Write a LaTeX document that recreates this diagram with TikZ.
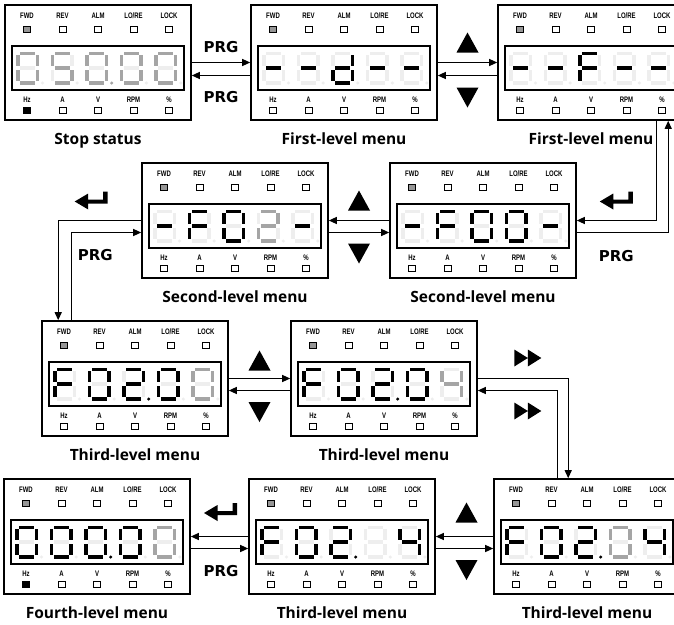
\documentclass[tikz,border=0pt]{standalone}
\usepackage{fontspec}
\setmainfont{Open Sans}
\newfontfamily\prgfont{DejaVu Sans}
\newfontfamily\ledfont[FakeStretch=0.75]{Liberation Sans}
\usetikzlibrary{positioning,arrows.meta,calc}
\definecolor{segc0}{RGB}{238,238,238}
\definecolor{segc1}{RGB}{0,0,0}
\definecolor{segc2}{RGB}{165,165,165}
\definecolor{fwdGray}{RGB}{150,150,150}
\tikzset{
  panel/.style={draw, line width=1.6pt, fill=white, minimum width=186pt,
                minimum height=115pt, inner sep=0pt},
  lcdwin/.style={draw, line width=1.1pt, minimum width=172pt,
                 minimum height=44pt, inner sep=0pt},
  ledlbl/.style={font=\ledfont\bfseries\fontsize{8}{9}\selectfont, inner sep=0pt},
  ledsq/.style={draw, line width=0.8pt, fill=white},
  menucap/.style={font=\bfseries\fontsize{15.5}{17}\selectfont, inner sep=0pt},
  prg/.style={font=\prgfont\bfseries\fontsize{15}{16}\selectfont, inner sep=0pt},
  flow/.style={-{Triangle[length=8pt,width=7pt]}, line width=1.2pt},
}
% segments a b c d e f g dp : 0 off, 1 on, 2 dim
\newcommand{\lcdseg}[8]{%
  \fill[fill=segc#1] (-7.5,-16.5) rectangle (7.5,-13);
  \fill[fill=segc#2] (8,-13) rectangle (11.5,-2);
  \fill[fill=segc#3] (8,2) rectangle (11.5,13);
  \fill[fill=segc#4] (-7.5,13) rectangle (7.5,16.5);
  \fill[fill=segc#5] (-11.5,2) rectangle (-8,13);
  \fill[fill=segc#6] (-11.5,-13) rectangle (-8,-2);
  \fill[fill=segc#7] (-7.5,-1.75) rectangle (7.5,1.75);
  \fill[fill=segc#8] (15,15) circle (1.7pt);}
\newcommand{\lcddigit}[2]{%
  \begin{scope}[shift={(#1,63)}]\expandafter\lcdseg#2\end{scope}}
% #1 name, #2 x, #3 y, #4 digit codes, #5 Hz led fill
\newcommand{\lcdpanel}[5]{%
  \begin{scope}[shift={(#2,#3)}]
    \node[panel] (#1) at (93,57.5) {};
    \node[lcdwin] (#1lcd) at (93,63) {};
    \foreach \lb [count=\n] in {FWD,REV,ALM,LO/RE,LOCK}{
      \node[ledlbl] at (22+35.5*\n-35.5,11) {\lb};
      \draw[ledsq] (18.5+35.5*\n-35.5,21) rectangle ++(7,6);}
    \draw[ledsq, fill=fwdGray] (18.5,21) rectangle ++(7,6);
    \foreach \lb [count=\n] in {Hz,A,V,RPM,\%}{
      \node[ledlbl] at (22+35.5*\n-35.5,95) {\lb};
      \draw[ledsq] (18.5+35.5*\n-35.5,102.5) rectangle ++(7,6);}
    \draw[ledsq, fill=#5] (18.5,102.5) rectangle ++(7,6);
    \foreach \code [count=\n] in {#4}
      \lcddigit{22.5+34.6*\n-34.6}{\code};
  \end{scope}}
\newcommand{\upkey}[1]{\fill[shift={#1}] (-11,10) -- (11,10) -- (0,-10) -- cycle;}
\newcommand{\downkey}[1]{\fill[shift={#1}] (-11,-10) -- (11,-10) -- (0,10) -- cycle;}
\newcommand{\shiftkey}[1]{\fill[shift={#1}] (-13.5,-8.5) -- (0,0) -- (-13.5,8.5) -- cycle
  (0,-8.5) -- (13.5,0) -- (0,8.5) -- cycle;}
\newcommand{\enterkey}[1]{\fill[shift={#1}] (-16.5,1.5) -- (-3,-6.5) -- (-3,-0.5)
  -- (12,-0.5) -- (12,-8.5) -- (16.5,-8.5) -- (16.5,3.5) -- (-3,3.5) -- (-3,9.5) -- cycle;}

\begin{document}
\begin{tikzpicture}[x=1pt, y=-1pt]
  \useasboundingbox (0,0) rectangle (674,624);
  \clip (0,0) rectangle (674,624);

  % --- first row : stop status and first-level menu ------------------------
  \lcdpanel{p1}{5}{5}{22222200,20220220,22222202,22222200,22222200}{black}
  \lcdpanel{p2}{251}{5}{00000010,00000010,01111010,00000010,00000010}{white}
  \lcdpanel{p3}{498}{5}{00000010,00000010,10001110,00000010,00000010}{white}

  % --- second row : second-level menu ----------------------------------------
  \lcdpanel{p4}{142}{163}{00000010,10001110,11111100,22022020,00000010}{white}
  \lcdpanel{p5}{390}{163}{00000010,10001110,11111100,11111100,00000010}{white}

  % --- third row : third-level menu ------------------------------------------
  \lcdpanel{p6}{42}{321}{10001110,11111100,11011011,11111100,22222200}{white}
  \lcdpanel{p7}{291}{321}{10001110,11111100,11011011,11111100,02200220}{white}

  % --- fourth row : fourth-level and third-level menu -------------------------
  \lcdpanel{p8}{4}{479}{11111100,11111100,11111101,11111100,22222200}{black}
  \lcdpanel{p9}{249}{479}{10001110,11111100,11011011,00000000,01100110}{white}
  \lcdpanel{p10}{494}{479}{10001110,11111100,11011011,22222200,01100110}{white}

  % --- captions --------------------------------------------------------------
  \node[menucap, below=12pt of p1] (c1) {Stop status};
  \node[menucap, below=12pt of p2] (c2) {First-level menu};
  \node[menucap, below=12pt of p3] (c3) {First-level menu};
  \node[menucap, below=12pt of p4] (c4) {Second-level menu};
  \node[menucap, below=12pt of p5] (c5) {Second-level menu};
  \node[menucap, below=12pt of p6] (c6) {Third-level menu};
  \node[menucap, below=12pt of p7] (c7) {Third-level menu};
  \node[menucap, below=12pt of p8] (c8) {Fourth-level menu};
  \node[menucap, below=12pt of p9] (c9) {Third-level menu};
  \node[menucap, below=12pt of p10] (c10) {Third-level menu};

  % --- connectors ------------------------------------------------------------
  \draw[flow] (p1.east) -- (p2.west);
  \draw[flow] ([yshift=-13pt]p2.west) -- ([yshift=-13pt]p1.east);
  \draw[flow] (p2.east) -- (p3.west);
  \draw[flow] ([yshift=-13pt]p3.west) -- ([yshift=-13pt]p2.east);
  \draw[flow] ([xshift=159pt]p3.south west) |- (p5.east);
  \draw[flow] ([yshift=-12pt]p5.east) -| ([xshift=171pt]p3.south west);
  \draw[flow] (p5.west) -- (p4.east);
  \draw[flow] ([yshift=-12pt]p4.east) -- ([yshift=-12pt]p5.west);
  \draw[flow] (p4.west) -| ([xshift=17pt]p6.north west);
  \draw[flow] ([xshift=30pt]p6.north west) |- ([yshift=-12pt]p4.west);
  \draw[flow] (p6.east) -- (p7.west);
  \draw[flow] ([yshift=-12pt]p7.west) -- ([yshift=-12pt]p6.east);
  \draw[flow] (p7.east) -| ([xshift=75pt]p10.north west);
  \draw[flow] ([xshift=64pt]p10.north west) |- ([yshift=-12pt]p7.east);
  \draw[flow] (p10.west) -- (p9.east);
  \draw[flow] ([yshift=-12pt]p9.east) -- ([yshift=-12pt]p10.west);
  \draw[flow] (p9.west) -- (p8.east);
  \draw[flow] ([yshift=-12pt]p8.east) -- ([yshift=-12pt]p9.west);

  % --- keys ------------------------------------------------------------------
  \node[prg] (k1) at ($(p1.east)!.5!(p2.west)+(0,-15.5)$) {PRG};
  \node[prg] (k2) at ($(p1.east)!.5!(p2.west)+(0,34.5)$) {PRG};
  \upkey{($(p2.east)!.5!(p3.west)+(0,-20)$)}
  \downkey{($(p2.east)!.5!(p3.west)+(0,35)$)}
  \enterkey{($(p5.east)+(39.5,-20.5)$)}
  \node[prg] (k3) at ($(p5.east)+(39.5,35.5)$) {PRG};
  \upkey{($(p4.east)!.5!(p5.west)+(0,-20)$)}
  \downkey{($(p4.east)!.5!(p5.west)+(0,33)$)}
  \enterkey{($(p4.west)+(-50,-20.5)$)}
  \node[prg] (k4) at ($(p4.west)+(-46,34.5)$) {PRG};
  \upkey{($(p6.east)!.5!(p7.west)+(0,-18)$)}
  \downkey{($(p6.east)!.5!(p7.west)+(0,33.5)$)}
  \shiftkey{($(p7.east)+(50,-20.5)$)}
  \shiftkey{($(p7.east)+(50,32.5)$)}
  \upkey{($(p9.east)!.5!(p10.west)+(2,-24)$)}
  \downkey{($(p9.east)!.5!(p10.west)+(2,33.5)$)}
  \enterkey{($(p8.east)!.5!(p9.west)+(1,-25)$)}
  \node[prg] (k5) at ($(p8.east)!.5!(p9.west)+(1.5,34.5)$) {PRG};
\end{tikzpicture}
\end{document}
